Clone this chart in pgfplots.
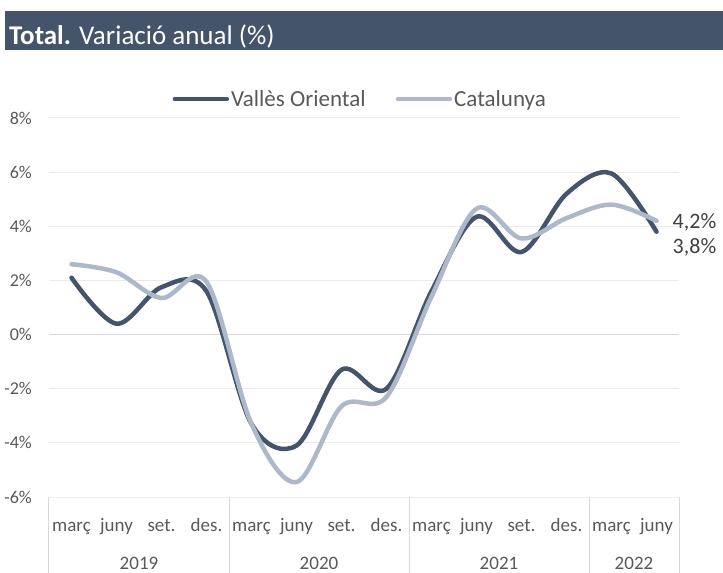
\documentclass[border=0pt]{standalone}
\usepackage{fontspec}
\setmainfont{Carlito}
\usepackage{pgfplots}
\pgfplotsset{compat=1.18}
\definecolor{vallesblue}{HTML}{44546A}
\definecolor{catgray}{HTML}{ADB9CA}
\definecolor{gridgray}{HTML}{EBEBEB}
\definecolor{sepgray}{HTML}{D9D9D9}
\definecolor{labelgray}{HTML}{595959}
\definecolor{datagray}{HTML}{404040}
\begin{document}
\begin{tikzpicture}
\useasboundingbox (-49pt,-76pt) rectangle (674pt,497pt);
% title bar
\fill[vallesblue] (-44pt,447pt) rectangle (674pt,486pt);
\node[anchor=base west, text=white, inner sep=0pt, font=\fontsize{27}{32}\selectfont]
  at (-40pt,452pt) {\textbf{Total.} Variació anual (\%)};
\begin{axis}[
    at={(0pt,0pt)}, anchor=south west,
    scale only axis, width=630pt, height=379pt,
    clip=false,
    xmin=-0.5, xmax=13.5, ymin=-6, ymax=8,
    xtick={0,...,13},
    xticklabels={març,juny,set.,des.,març,juny,set.,des.,març,juny,set.,des.,març,juny},
    ytick={-6,-4,...,8},
    yticklabels={-6\%,-4\%,-2\%,0\%,2\%,4\%,6\%,8\%},
    major tick length=0pt,
    axis line style={draw=none},
    ymajorgrids,
    grid style={gridgray, line width=1pt},
    xticklabel style={anchor=base, yshift=-34pt, text=labelgray, font=\fontsize{19}{22}\selectfont},
    yticklabel style={anchor=east, inner sep=0pt, xshift=-17pt, text=labelgray, font=\fontsize{18}{21}\selectfont},
    legend style={at={(0.494,1.05)}, anchor=center, draw=none, fill=none,
      legend columns=2, text=labelgray, font=\fontsize{23}{27}\selectfont,
      /tikz/every even column/.append style={column sep=28pt}},
    legend image code/.code={\draw[#1, line cap=round] (0pt,0pt) -- (52pt,0pt);},
  ]
  \draw[sepgray, line width=1.5pt] (axis cs:-0.5,0) -- (axis cs:13.5,0);
  \pgfplotsinvokeforeach{-0.5,3.5,7.5,11.5,13.5}{
    \draw[sepgray, line width=1pt] (axis cs:#1,-6) -- ++(0pt,-76pt);
  }

  \addplot[vallesblue, line width=4.5pt, smooth, tension=0.55, line cap=round]
    coordinates {
      (0,2.1) (1,0.4) (2,1.75) (3,1.6)
      (4,-3.3) (5,-4.1) (6,-1.3) (7,-2.0)
      (8,1.6) (9,4.35) (10,3.05) (11,5.2)
      (12,5.95) (13,3.8)
    };
  \addlegendentry{Vallès Oriental}

  \addplot[catgray, line width=4.5pt, smooth, tension=0.55, line cap=round]
    coordinates {
      (0,2.6) (1,2.3) (2,1.35) (3,1.95)
      (4,-3.3) (5,-5.45) (6,-2.65) (7,-2.3)
      (8,1.4) (9,4.65) (10,3.55) (11,4.3)
      (12,4.8) (13,4.2)
    };
  \addlegendentry{Catalunya}

  % value labels at the last quarter
  \node[anchor=west, inner sep=0pt, text=datagray, font=\fontsize{22}{25}\selectfont, xshift=16pt, yshift=-2pt]
    at (axis cs:13,4.2) {4,2\%};
  \node[anchor=west, inner sep=0pt, text=datagray, font=\fontsize{22}{25}\selectfont, xshift=16pt, yshift=-16pt]
    at (axis cs:13,3.8) {3,8\%};

  % year labels
  \node[anchor=base, text=labelgray, font=\fontsize{19}{22}\selectfont, yshift=-72pt] at (axis cs:1.5,-6) {2019};
  \node[anchor=base, text=labelgray, font=\fontsize{19}{22}\selectfont, yshift=-72pt] at (axis cs:5.5,-6) {2020};
  \node[anchor=base, text=labelgray, font=\fontsize{19}{22}\selectfont, yshift=-72pt] at (axis cs:9.5,-6) {2021};
  \node[anchor=base, text=labelgray, font=\fontsize{19}{22}\selectfont, yshift=-72pt] at (axis cs:12.5,-6) {2022};
\end{axis}
\end{tikzpicture}
\end{document}
